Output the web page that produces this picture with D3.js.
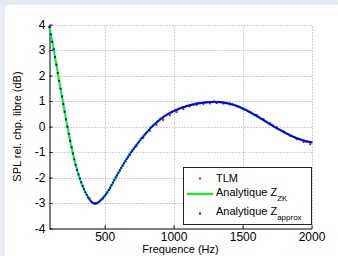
<!DOCTYPE html>
<html lang="fr">
<head>
<meta charset="UTF-8">
<title>SPL</title>
<style>
  body { margin: 0; background: #e4ebf3; }
  svg { display: block; font-family: "Liberation Sans", Arial, Helvetica, sans-serif; }
</style>
</head>
<body>
<div id="chart"></div>
<script src="https://cdn.jsdelivr.net/npm/d3@7/dist/d3.min.js"></script>
<script>
// Analytique Z_approx : un point tous les 10 Hz, de 100 a 2000 Hz
const approxStart = 100, approxStep = 10;
const approxDb = [
  3.90, 3.61, 3.32, 3.03, 2.73, 2.42, 2.10, 1.79, 1.48, 1.18,
  0.88, 0.58, 0.28, -0.01, -0.29, -0.56, -0.82, -1.06, -1.29, -1.50,
  -1.70, -1.88, -2.04, -2.19, -2.33, -2.46, -2.58, -2.68, -2.78, -2.86,
  -2.93, -2.98, -3.01, -3.02, -3.01, -2.99, -2.95, -2.90, -2.85, -2.79,
  -2.72, -2.65, -2.58, -2.49, -2.40, -2.30, -2.20, -2.10, -2.00, -1.91,
  -1.81, -1.72, -1.62, -1.53, -1.44, -1.36, -1.27, -1.19, -1.10, -1.02,
  -0.95, -0.88, -0.80, -0.73, -0.66, -0.59, -0.52, -0.45, -0.39, -0.32,
  -0.26, -0.20, -0.14, -0.08, -0.02, 0.03, 0.08, 0.13, 0.18, 0.22,
  0.27, 0.31, 0.35, 0.39, 0.42, 0.46, 0.49, 0.52, 0.55, 0.58,
  0.60, 0.63, 0.65, 0.67, 0.70, 0.72, 0.74, 0.76, 0.77, 0.79,
  0.81, 0.82, 0.84, 0.85, 0.86, 0.87, 0.89, 0.90, 0.91, 0.91,
  0.92, 0.93, 0.94, 0.94, 0.95, 0.95, 0.96, 0.96, 0.96, 0.97,
  0.97, 0.96, 0.96, 0.96, 0.95, 0.95, 0.94, 0.93, 0.92, 0.91,
  0.90, 0.89, 0.87, 0.86, 0.84, 0.82, 0.80, 0.78, 0.76, 0.73,
  0.71, 0.68, 0.66, 0.63, 0.60, 0.57, 0.54, 0.51, 0.48, 0.45,
  0.42, 0.39, 0.36, 0.32, 0.29, 0.26, 0.22, 0.19, 0.16, 0.12,
  0.09, 0.06, 0.03, -0.01, -0.04, -0.07, -0.10, -0.13, -0.16, -0.19,
  -0.22, -0.25, -0.28, -0.30, -0.33, -0.36, -0.38, -0.41, -0.43, -0.45,
  -0.47, -0.49, -0.51, -0.53, -0.55, -0.56, -0.58, -0.59, -0.60, -0.61,
  -0.62
];

// TLM
const tlmFreq = [
  100, 148, 197, 245, 294, 342, 391, 439, 488, 536,
  585, 633, 682, 730, 779, 827, 876, 924, 973, 1021,
  1070, 1118, 1167, 1215, 1264, 1312, 1361, 1409, 1458, 1506,
  1555, 1603, 1652, 1700, 1749, 1797, 1846, 1894, 1943, 1991
];
const tlmDb = [
  3.90, 2.48, 0.97, -0.43, -1.58, -2.36, -2.82, -3.02, -2.82, -2.45,
  -1.97, -1.52, -1.12, -0.78, -0.45, -0.17, 0.07, 0.26, 0.44, 0.57,
  0.69, 0.79, 0.85, 0.89, 0.91, 0.92, 0.90, 0.87, 0.80, 0.70,
  0.58, 0.45, 0.29, 0.13, -0.03, -0.19, -0.36, -0.50, -0.61, -0.69
];

const xTicks = [500, 1000, 1500, 2000];
const yTicks = [-4, -3, -2, -1, 0, 1, 2, 3, 4];

const W = 338, H = 256;

const approx = approxDb.map((v, i) => ({ f: approxStart + i * approxStep, v: v }));
const tlm = tlmFreq.map((f, i) => ({ f: f, v: tlmDb[i] }));

const svg = d3.select("#chart").append("svg")
    .attr("width", W)
    .attr("height", H);

svg.append("rect")
    .attr("x", 5).attr("y", 5)
    .attr("width", W - 5).attr("height", H - 5)
    .attr("fill", "#fff");

const x = d3.scaleLinear().domain([100, 2000]).range([49.5, 311.5]);
const y = d3.scaleLinear().domain([-4, 4]).range([228.5, 24.5]);

// grille
const grid = svg.append("g")
    .attr("stroke", "#a0a0a0")
    .attr("stroke-dasharray", "1,2");
grid.selectAll("line.gy")
    .data(yTicks.filter(d => d > -4))
    .join("line")
    .attr("x1", x(100)).attr("x2", x(2000))
    .attr("y1", d => Math.round(y(d)) + 0.5)
    .attr("y2", d => Math.round(y(d)) + 0.5);
grid.selectAll("line.gx")
    .data(xTicks)
    .join("line")
    .attr("y1", y(-4)).attr("y2", y(4))
    .attr("x1", d => Math.round(x(d)) + 0.5)
    .attr("x2", d => Math.round(x(d)) + 0.5);

// axes
const xAxis = svg.append("g")
    .attr("transform", `translate(0,${y(-4)})`)
    .call(d3.axisBottom(x).tickValues(xTicks).tickSizeInner(-3).tickSizeOuter(0).tickPadding(4)
        .tickFormat(d3.format("d")));
const yAxis = svg.append("g")
    .attr("transform", `translate(${x(100)},0)`)
    .call(d3.axisLeft(y).tickValues(yTicks).tickSizeInner(-3).tickSizeOuter(0).tickPadding(4)
        .tickFormat(d => String(d)));

[xAxis, yAxis].forEach(a => {
    a.selectAll("text").attr("font-size", 12).attr("fill", "#000")
        .attr("font-family", "Liberation Sans, Arial, sans-serif");
    a.selectAll("line, path").attr("stroke", "#000");
});

// courbes
svg.append("g").selectAll("rect")
    .data(tlm)
    .join("rect")
    .attr("x", d => x(d.f) - 1)
    .attr("y", d => y(d.v) - 1)
    .attr("width", 2).attr("height", 2)
    .attr("fill", "#ff0000");

svg.append("path")
    .datum(approx)
    .attr("fill", "none")
    .attr("stroke", "#00ff00")
    .attr("stroke-width", 2)
    .attr("d", d3.line().x(d => x(d.f)).y(d => y(d.v)).curve(d3.curveMonotoneX));

svg.append("g").selectAll("rect")
    .data(approx)
    .join("rect")
    .attr("x", d => x(d.f) - 1)
    .attr("y", d => y(d.v) - 1)
    .attr("width", 2).attr("height", 2)
    .attr("fill", "#0000ff");

// titres
svg.append("text")
    .attr("x", (x(100) + x(2000)) / 2)
    .attr("y", 253)
    .attr("text-anchor", "middle")
    .attr("font-size", 11)
    .text("Frequence (Hz)");

svg.append("text")
    .attr("transform", `translate(21,${(y(-4) + y(4)) / 2}) rotate(-90)`)
    .attr("text-anchor", "middle")
    .attr("font-size", 11)
    .text("SPL rel. chp. libre (dB)");

// legende
const leg = svg.append("g");
leg.append("rect")
    .attr("x", 183.5).attr("y", 167.5)
    .attr("width", 128).attr("height", 57)
    .attr("fill", "#fff")
    .attr("stroke", "#222");

leg.append("rect")
    .attr("x", 199).attr("y", 177.5).attr("width", 2).attr("height", 2)
    .attr("fill", "#ff0000");
leg.append("line")
    .attr("x1", 187).attr("x2", 213).attr("y1", 194).attr("y2", 194)
    .attr("stroke", "#00ff00").attr("stroke-width", 2);
leg.append("rect")
    .attr("x", 199).attr("y", 212.5).attr("width", 2).attr("height", 2)
    .attr("fill", "#0000ff");

leg.append("text").attr("x", 216).attr("y", 181.5).attr("font-size", 11).text("TLM");

const t2 = leg.append("text").attr("x", 216).attr("y", 196).attr("font-size", 11);
t2.append("tspan").text("Analytique Z");
t2.append("tspan").attr("dy", 5).attr("font-size", 8).text("ZK");

const t3 = leg.append("text").attr("x", 216).attr("y", 215).attr("font-size", 11);
t3.append("tspan").text("Analytique Z");
t3.append("tspan").attr("dy", 5).attr("font-size", 8).text("approx");
</script>
</body>
</html>
